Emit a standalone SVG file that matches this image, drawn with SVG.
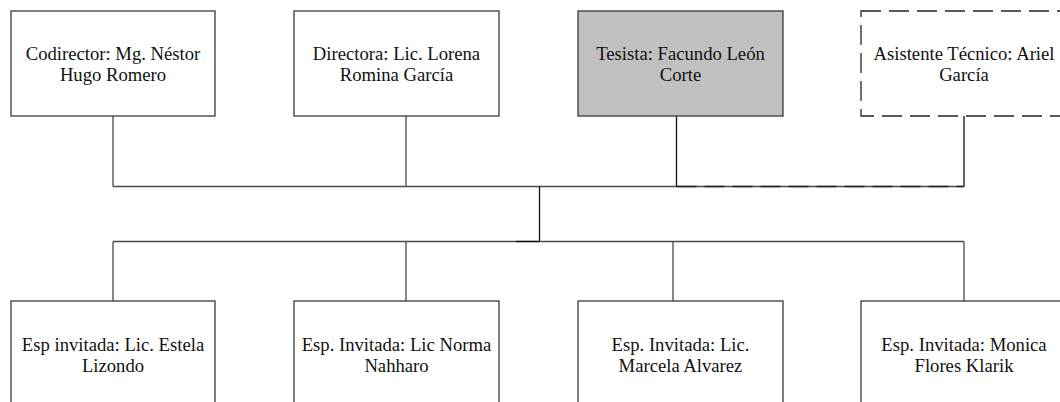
<svg xmlns="http://www.w3.org/2000/svg" width="1060" height="402" viewBox="0 0 1060 402">
  <style>
    .box { fill: #ffffff; stroke: #3a3a3a; stroke-width: 1.3; }
    .shaded { fill: #c0c0c0; }
    .dashed { stroke-dasharray: 20 8; stroke: #222; }
    .lbl { font-family: "Liberation Serif", "Times New Roman", serif; font-size: 18.67px; fill: #111; text-anchor: middle; }
    .conn { stroke: #4a4a4a; stroke-width: 1.3; fill: none; }
    .conn-dark { stroke: #111; stroke-width: 1.3; fill: none; }
    .conn-dash { stroke: #222; stroke-width: 1.4; fill: none; stroke-dasharray: 20 8; }
  </style>
  <rect width="1060" height="402" fill="#ffffff"/>

  <g id="connectors">
    <!-- top bus -->
    <line class="conn" x1="113" y1="186.5" x2="964" y2="186.5"/>
    <line class="conn-dash" x1="676.5" y1="186.5" x2="964" y2="186.5"/>
    <line class="conn" x1="113" y1="116" x2="113" y2="186.5"/>
    <line class="conn" x1="406" y1="116" x2="406" y2="186.5"/>
    <line class="conn-dark" x1="676.5" y1="116" x2="676.5" y2="186.5"/>
    <line class="conn-dark" x1="964" y1="116" x2="964" y2="186.5"/>
    <!-- trunk -->
    <line class="conn-dark" x1="539.5" y1="186.5" x2="539.5" y2="241.5"/>
    <!-- lower bus -->
    <line class="conn" x1="113" y1="241.5" x2="964" y2="241.5"/>
    <line class="conn-dark" x1="516" y1="241.5" x2="539.5" y2="241.5"/>
    <line class="conn" x1="113" y1="241.5" x2="113" y2="301"/>
    <line class="conn" x1="406" y1="241.5" x2="406" y2="301"/>
    <line class="conn" x1="673" y1="241.5" x2="673" y2="301"/>
    <line class="conn" x1="964" y1="241.5" x2="964" y2="301"/>
  </g>

  <g id="codirector">
    <rect class="box" x="11" y="11" width="204" height="105"/>
    <text class="lbl" x="113" y="60">Codirector: Mg. Néstor</text>
    <text class="lbl" x="113" y="81">Hugo Romero</text>
  </g>
  <g id="directora">
    <rect class="box" x="294" y="11" width="205" height="105"/>
    <text class="lbl" x="396.5" y="60">Directora: Lic. Lorena</text>
    <text class="lbl" x="396.5" y="81">Romina García</text>
  </g>
  <g id="tesista">
    <rect class="box shaded" x="578" y="11" width="205" height="105"/>
    <text class="lbl" x="680.5" y="60">Tesista: Facundo León</text>
    <text class="lbl" x="680.5" y="81">Corte</text>
  </g>
  <g id="asistente">
    <rect class="box dashed" x="861" y="11" width="206" height="105"/>
    <text class="lbl" x="964" y="60">Asistente Técnico: Ariel</text>
    <text class="lbl" x="964" y="81">García</text>
  </g>

  <g id="esp-lizondo">
    <rect class="box" x="11" y="301" width="204" height="110"/>
    <text class="lbl" x="113" y="351">Esp invitada: Lic. Estela</text>
    <text class="lbl" x="113" y="372">Lizondo</text>
  </g>
  <g id="esp-nahharo">
    <rect class="box" x="294" y="301" width="205" height="110"/>
    <text class="lbl" x="396.5" y="351">Esp. Invitada: Lic Norma</text>
    <text class="lbl" x="396.5" y="372">Nahharo</text>
  </g>
  <g id="esp-alvarez">
    <rect class="box" x="578" y="301" width="205" height="110"/>
    <text class="lbl" x="680.5" y="351">Esp. Invitada: Lic.</text>
    <text class="lbl" x="680.5" y="372">Marcela Alvarez</text>
  </g>
  <g id="esp-klarik">
    <rect class="box" x="861" y="301" width="206" height="110"/>
    <text class="lbl" x="964" y="351">Esp. Invitada: Monica</text>
    <text class="lbl" x="964" y="372">Flores Klarik</text>
  </g>
</svg>
